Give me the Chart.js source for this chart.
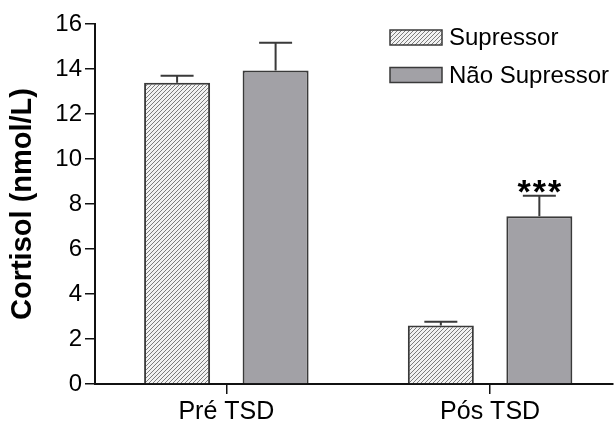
<!DOCTYPE html>
<html lang="pt">
<head>
<meta charset="utf-8">
<title>Cortisol</title>
<script src="https://cdn.jsdelivr.net/npm/chart.js@4"></script>
<style>
  body { margin: 0; background: #fff; }
  #caixa { position: relative; width: 615px; height: 423px; }
</style>
</head>
<body>
<div id="caixa"><canvas id="grafico"></canvas></div>
<script>
// Dados
const categorias = ["Pré TSD", "Pós TSD"];
const grupos = ["Supressor", "Não Supressor"];
const mediaSupressor = [13.39, 2.60];
const erroSupressor = [0.31, 0.17];
const mediaNaoSupressor = [13.93, 7.46];
const erroNaoSupressor = [1.24, 0.91];
const significancia = [["", ""], ["", "***"]];
const ticksY = [0, 2, 4, 6, 8, 10, 12, 14, 16];

const fonte = "'Liberation Sans', Arial, Helvetica, sans-serif";
const corBorda = "#3a3a3a";

// Padrão hachurado
function criarHachura() {
  let c = document.createElement("canvas");
  c.width = 4;
  c.height = 4;
  let g = c.getContext("2d");
  g.fillStyle = "#f2f2f2";
  g.fillRect(0, 0, 4, 4);
  g.strokeStyle = "#7c7c7c";
  g.lineWidth = 1;
  g.beginPath();
  g.moveTo(0, 4); g.lineTo(4, 0);
  g.moveTo(-1, 1); g.lineTo(1, -1);
  g.moveTo(3, 5); g.lineTo(5, 3);
  g.stroke();
  return g.createPattern(c, "repeat");
}

function pontos(valores) {
  return valores.map((v, i) => ({ x: i, y: v }));
}

const erros = [erroSupressor, erroNaoSupressor];

// Barras de erro e asteriscos
const barrasErro = {
  id: "barrasErro",
  afterDatasetsDraw(chart) {
    const ctx = chart.ctx;
    const y = chart.scales.y;
    ctx.save();
    chart.data.datasets.forEach((ds, i) => {
      const meta = chart.getDatasetMeta(i);
      meta.data.forEach((barra, j) => {
        const topo = y.getPixelForValue(ds.data[j].y + erros[i][j]);
        const meia = barra.width / 4;
        ctx.strokeStyle = corBorda;
        ctx.lineWidth = 2;
        ctx.beginPath();
        ctx.moveTo(barra.x, barra.y);
        ctx.lineTo(barra.x, topo);
        ctx.moveTo(barra.x - meia, topo);
        ctx.lineTo(barra.x + meia, topo);
        ctx.stroke();
        const marca = significancia[j][i];
        if (marca) {
          ctx.fillStyle = "#000";
          ctx.font = "bold 34px " + fonte;
          ctx.letterSpacing = "2px";
          ctx.textAlign = "center";
          ctx.textBaseline = "alphabetic";
          ctx.fillText(marca, barra.x + 1, topo + 7);
          ctx.letterSpacing = "0px";
        }
      });
    });
    ctx.restore();
  }
};

// Legenda
const legenda = {
  id: "legenda",
  afterDraw(chart) {
    const ctx = chart.ctx;
    ctx.save();
    chart.data.datasets.forEach((ds, i) => {
      const x = 390, y = 30 + i * 37.5;
      ctx.fillStyle = ds.backgroundColor;
      ctx.fillRect(x, y, 52, 15);
      ctx.strokeStyle = corBorda;
      ctx.lineWidth = 1.5;
      ctx.strokeRect(x, y, 52, 15);
      ctx.fillStyle = "#000";
      ctx.font = "24px " + fonte;
      ctx.textAlign = "left";
      ctx.textBaseline = "middle";
      ctx.fillText(ds.label, x + 59, y + 8.5);
    });
    ctx.restore();
  }
};

let contexto = document.getElementById("grafico").getContext("2d");

new Chart(contexto, {
  type: "bar",
  data: {
    datasets: [{
      label: grupos[0],
      data: pontos(mediaSupressor),
      backgroundColor: criarHachura(),
      borderColor: corBorda,
      borderWidth: 2
    }, {
      label: grupos[1],
      data: pontos(mediaNaoSupressor),
      backgroundColor: "#a2a1a6",
      borderColor: corBorda,
      borderWidth: 2
    }]
  },
  options: {
    responsive: true,
    maintainAspectRatio: false,
    animation: false,
    categoryPercentage: 0.747,
    barPercentage: 0.67,
    layout: { padding: { top: 24, right: 2, bottom: 0, left: 0 } },
    plugins: {
      legend: { display: false },
      tooltip: { enabled: false }
    },
    scales: {
      x: {
        type: "linear",
        offset: false,
        min: -0.498,
        max: 1.466,
        afterBuildTicks: (eixo) => { eixo.ticks = categorias.map((c, i) => ({ value: i })); },
        afterFit: (eixo) => { eixo.height = 39; },
        ticks: {
          callback: (v) => categorias[v],
          color: "#000",
          padding: 3,
          font: { family: fonte, size: 25 }
        },
        grid: { offset: false, drawOnChartArea: false, drawTicks: true, tickLength: 10, color: "#111", lineWidth: 1.5 },
        border: { color: "#111", width: 2 }
      },
      y: {
        min: 0,
        max: 16,
        afterBuildTicks: (eixo) => { eixo.ticks = ticksY.map(v => ({ value: v })); },
        afterFit: (eixo) => { eixo.width = 95; },
        ticks: {
          color: "#000",
          padding: 3,
          font: { family: fonte, size: 24 }
        },
        grid: { drawOnChartArea: false, drawTicks: true, tickLength: 10, color: "#111", lineWidth: 1.5 },
        border: { color: "#111", width: 2 },
        title: {
          display: true,
          text: "Cortisol (nmol/L)",
          color: "#000",
          padding: { top: 6, bottom: 0 },
          font: { family: fonte, size: 29, weight: "bold" }
        }
      }
    }
  },
  plugins: [barrasErro, legenda]
});
</script>
</body>
</html>
